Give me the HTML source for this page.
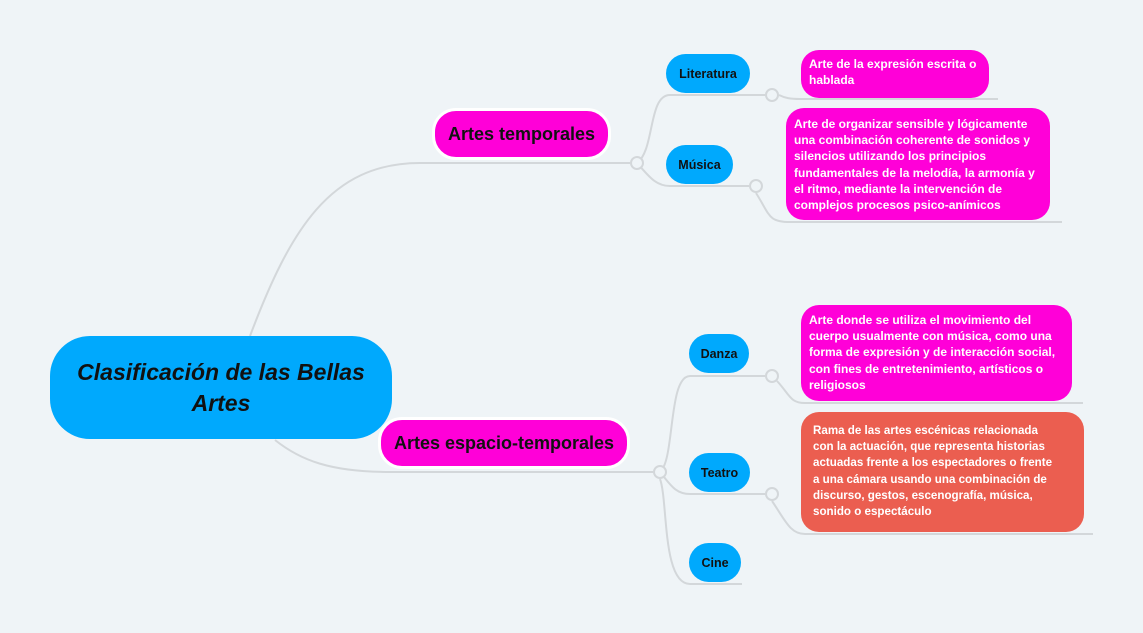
<!DOCTYPE html>
<html><head><meta charset="utf-8"><style>
body{margin:0;width:1143px;height:633px;background:#eff4f7;position:relative;overflow:hidden;font-family:"Liberation Sans",sans-serif;}
.n{position:absolute;box-sizing:border-box;display:flex;align-items:center;justify-content:center;font-weight:bold;}
.c{background:#00a9fd;border-radius:20px;font-size:12.5px;color:#111;}
.m{background:#ff00d8;border:3px solid #fff;border-radius:24px;font-size:18px;color:#111;}
.d{position:absolute;box-sizing:border-box;border-radius:18px;color:#fff;font-weight:bold;font-size:12px;line-height:16.2px;padding:6px 8px;}
svg{position:absolute;left:0;top:0}
</style></head><body>
<svg width="1143" height="633" fill="none" stroke="#d3d7da" stroke-width="2">
<path d="M250,336 C290,230 330,163 420,163 L630,163"/>
<path d="M275,440 C300,460 330,472 390,472 L653,472"/>
<path d="M637,163 C655,150 648,95 670,95 L765,95"/>
<path d="M637,163 C648,175 655,186 670,186 L749,186"/>
<path d="M779,95 C785,98 790,99 800,99 L998,99"/>
<path d="M756,193 C770,215 768,222 790,222 L1062,222"/>
<path d="M660,472 C675,460 668,376 690,376 L765,376"/>
<path d="M660,472 C670,484 675,494 690,494 L765,494"/>
<path d="M660,479 C668,500 662,584 690,584 L742,584"/>
<path d="M777,381 C790,395 790,403 805,403 L1083,403"/>
<path d="M772,501 C785,520 790,534 805,534 L1093,534"/>
<g fill="#eff4f7"><circle cx="637" cy="163" r="6"/><circle cx="660" cy="472" r="6"/><circle cx="772" cy="95" r="6"/><circle cx="756" cy="186" r="6"/><circle cx="772" cy="376" r="6"/><circle cx="772" cy="494" r="6"/></g>
</svg>
<div class="n" style="left:50px;top:336px;width:342px;height:103px;background:#00a9fd;border-radius:40px;font-size:23px;font-style:italic;text-align:center;line-height:31px;color:#111;">Clasificación de las Bellas<br>Artes</div>
<div class="n m" style="left:432px;top:108px;width:179px;height:52px;">Artes temporales</div>
<div class="n m" style="left:378px;top:417px;width:252px;height:52px;">Artes espacio-temporales</div>
<div class="n c" style="left:666px;top:54px;width:84px;height:39px;">Literatura</div>
<div class="n c" style="left:666px;top:145px;width:67px;height:39px;">Música</div>
<div class="n c" style="left:689px;top:334px;width:60px;height:39px;">Danza</div>
<div class="n c" style="left:689px;top:453px;width:61px;height:39px;">Teatro</div>
<div class="n c" style="left:689px;top:543px;width:52px;height:39px;">Cine</div>
<div class="d" style="left:801px;top:50px;width:188px;height:48px;background:#ff00d8;">Arte de la expresión escrita o hablada</div>
<div class="d" style="left:786px;top:108px;width:264px;height:112px;background:#ff00d8;padding-top:8px;">Arte de organizar sensible y lógicamente una combinación coherente de sonidos y silencios utilizando los principios fundamentales de la melodía, la armonía y el ritmo, mediante la intervención de complejos procesos psico-anímicos</div>
<div class="d" style="left:801px;top:305px;width:271px;height:96px;background:#ff00d8;padding-top:7px;">Arte donde se utiliza el movimiento del cuerpo usualmente con música, como una forma de expresión y de interacción social, con fines de entretenimiento, artísticos o religiosos</div>
<div class="d" style="left:801px;top:412px;width:283px;height:120px;background:#eb5e50;padding:11px 12px;white-space:nowrap;font-size:11.6px;">Rama de las artes escénicas relacionada<br>con la actuación, que representa historias<br>actuadas frente a los espectadores o frente<br>a una cámara usando una combinación de<br>discurso, gestos, escenografía, música,<br>sonido o espectáculo</div>
</body></html>
